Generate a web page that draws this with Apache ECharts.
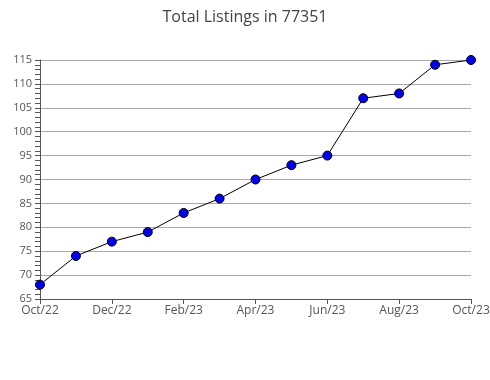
<!DOCTYPE html>
<html><head><meta charset="utf-8">
<script src="https://cdn.jsdelivr.net/npm/echarts@6/dist/echarts.min.js"></script>
<style>html,body{margin:0;padding:0;background:#fff}#c{width:490px;height:380px}</style>
</head><body><div id="c"></div>
<script>
var categories = ['Oct/22','Nov/22','Dec/22','Jan/23','Feb/23','Mar/23','Apr/23','May/23','Jun/23','Jul/23','Aug/23','Sep/23','Oct/23'];
var listings = [68,74,77,79,83,86,90,93,95,107,108,114,115];
var yMin = 65, yMax = 115, yStep = 5;

var chart = echarts.init(document.getElementById('c'), null, {renderer:'canvas'});
chart.setOption({
  animation:false,
  title:{text:'Total Listings in 77351', left:'center', top:4,
    textStyle:{fontFamily:'Open Sans', fontWeight:'normal', fontSize:16, color:'#444'}},
  grid:{left:40, right:19, top:60, bottom:81, containLabel:false, outerBoundsMode:'none'},
  xAxis:{type:'category', data:categories, boundaryGap:false,
    axisLine:{lineStyle:{color:'#555', width:1}},
    axisTick:{show:true, alignWithLabel:true, length:5, lineStyle:{color:'#555'}},
    axisLabel:{interval:1, fontFamily:'Open Sans', fontSize:12, color:'#555', margin:6},
    splitLine:{show:false}},
  yAxis:{type:'value', min:yMin, max:yMax, interval:yStep,
    axisLine:{show:true, lineStyle:{color:'#555'}},
    axisTick:{show:true, length:5, inside:false, lineStyle:{color:'#555'}},
    minorTick:{show:true, splitNumber:5, length:5, lineStyle:{color:'#555'}},
    axisLabel:{fontFamily:'Open Sans', fontSize:11, color:'#555', margin:8},
    splitLine:{show:true, lineStyle:{color:'#aaa', width:1}}},
  series:[{type:'line', data:listings, symbol:'circle', symbolSize:9,
    lineStyle:{color:'#000', width:1},
    itemStyle:{color:'#0000ee', borderColor:'#000', borderWidth:1}}]
});
</script></body></html>
